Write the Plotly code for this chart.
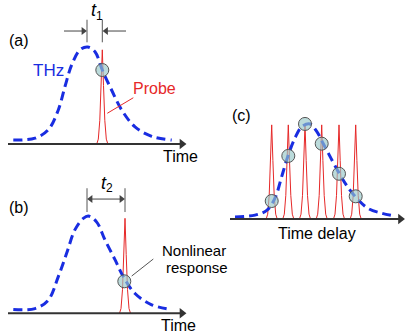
import plotly.graph_objects as go

W, H = 405, 333
FONT = "Liberation Sans, Arial, sans-serif"
BLUE = "rgb(25,45,225)"
RED = "rgb(230,40,40)"
GRAY = "#555555"
AXIS = "#333333"
CIRCLE_FILL = "rgba(150,200,200,0.65)"

# ---- data (arbitrary time units, normalised amplitude) ----
# panel (a)
THZ_A_T = [0.53, 2.7, 4.03, 5.03, 5.7, 6.37, 7.2, 7.97, 8.7, 9.43, 10.37, 11.37, 12.7, 14.37, 16.37]
THZ_A_AMP = [0.01, 0.03, 0.12, 0.33, 0.58, 0.81, 0.97, 1.0, 0.95, 0.755, 0.54, 0.33, 0.15, 0.05, 0.01]
PROBE_A_T = [9.43]
PROBE_A_PEAK = [0.97]
RESP_A_AMP = [0.755]

# panel (b)
THZ_B_T = [0.53, 2.7, 4.03, 5.03, 5.87, 6.7, 7.53, 8.03, 8.87, 9.7, 10.7, 11.53, 12.7, 14.37, 16.37]
THZ_B_AMP = [0.0, 0.01, 0.10, 0.35, 0.60, 0.85, 0.97, 0.995, 0.93, 0.74, 0.53, 0.35, 0.17, 0.05, 0.0]
PROBE_B_T = [11.7]
PROBE_B_PEAK = [0.97]
RESP_B_T = [11.63]
RESP_B_AMP = [0.30]

# panel (c)
THZ_C_T = [0.5, 2.5, 3.67, 4.5, 5.17, 5.83, 6.5, 7.17, 8.0, 8.67, 9.33, 10.17, 11.0, 11.83, 12.67, 13.83, 15.17, 16.5]
THZ_C_AMP = [0.0, 0.02, 0.07, 0.2, 0.43, 0.66, 0.84, 0.96, 0.99, 0.91, 0.78, 0.61, 0.45, 0.31, 0.2, 0.09, 0.04, 0.01]
PROBE_C_T = [4.17, 5.83, 7.5, 9.17, 10.9, 12.57]
PROBE_C_PEAK = [0.98] * 6
RESP_C_AMP = [0.17, 0.65, 0.99, 0.78, 0.46, 0.22]

# probe pulse profile (relative time offset, relative height)
PULSE_DT = [-0.55, -0.4, -0.25, -0.12, 0.0, 0.12, 0.25, 0.4, 0.55]
PULSE_SHAPE = [0.0, 0.05, 0.25, 0.62, 1.0, 0.62, 0.25, 0.05, 0.0]

# ---- panel geometry (pixel boxes and origins) ----
SX, SY = 10.0, 94.0  # px per time unit, px per amplitude unit
panels = {
    "a": dict(box=(0, 200, 0, 165), origin=(8, 141)),
    "b": dict(box=(0, 230, 170, 333), origin=(8, 309.5)),
    "c": dict(box=(215, 405, 95, 250), origin=(230, 217)),
}
axis_ids = {"a": "", "b": "2", "c": "3"}

fig = go.Figure()
layout = dict(width=W, height=H, margin=dict(l=0, r=0, t=0, b=0),
              paper_bgcolor="white", plot_bgcolor="rgba(0,0,0,0)",
              showlegend=False, autosize=False)

for key, p in panels.items():
    l, r, t, b = p["box"]
    x0, y0 = p["origin"]
    i = axis_ids[key]
    layout["xaxis" + i] = dict(domain=[l / W, r / W], range=[(l - x0) / SX, (r - x0) / SX],
                               visible=False, fixedrange=True, anchor="y" + i)
    layout["yaxis" + i] = dict(domain=[1 - b / H, 1 - t / H], range=[(y0 - b) / SY, (y0 - t) / SY],
                               visible=False, fixedrange=True, anchor="x" + i)
fig.update_layout(**layout)


def add_pulses(centers, peaks, base, xa, ya):
    for c, pk in zip(centers, peaks):
        xs = [c + d for d in PULSE_DT]
        ys = [base + (pk - base) * s for s in PULSE_SHAPE]
        fig.add_trace(go.Scatter(x=xs, y=ys, mode="lines", line=dict(color=RED, width=1),
                                 xaxis=xa, yaxis=ya, hoverinfo="skip"))


def add_thz(ts, amps, xa, ya):
    fig.add_trace(go.Scatter(x=ts, y=amps, mode="lines",
                             line=dict(color=BLUE, width=3, dash="9px,5px", shape="spline"),
                             xaxis=xa, yaxis=ya, hoverinfo="skip"))


def add_circles(ts, amps, xa, ya):
    fig.add_trace(go.Scatter(x=ts, y=amps, mode="markers",
                             marker=dict(size=13, color=CIRCLE_FILL, line=dict(color=GRAY, width=1)),
                             xaxis=xa, yaxis=ya, hoverinfo="skip"))


def add_line(xs, ys, xa, ya, color=GRAY, width=1):
    fig.add_trace(go.Scatter(x=xs, y=ys, mode="lines", line=dict(color=color, width=width),
                             xaxis=xa, yaxis=ya, hoverinfo="skip"))


def arrow(x_tail, x_head, y, xa, ya, color=AXIS, width=2, size=9, both=False):
    """Horizontal arrow drawn as a line plus triangle marker head(s)."""
    d = 1 if x_head > x_tail else -1
    off = size * 0.045  # shift so the triangle tip sits at the head
    add_line([x_tail + (d * off if both else 0), x_head - d * off], [y, y], xa, ya, color=color, width=width)
    hx = [x_head - d * off]
    sym = ["triangle-right" if d > 0 else "triangle-left"]
    if both:
        hx.append(x_tail + d * off)
        sym.append("triangle-left" if d > 0 else "triangle-right")
    fig.add_trace(go.Scatter(x=hx, y=[y] * len(hx), mode="markers",
                             marker=dict(symbol=sym, size=size, color=color, line=dict(width=0)),
                             xaxis=xa, yaxis=ya, hoverinfo="skip"))


def label(txt, x, y, xr, yr, size=16, color="black", italic=False):
    fig.add_annotation(x=x, y=y, xref=xr, yref=yr, text=txt, showarrow=False,
                       font=dict(family=FONT, size=size, color=color,
                                 style="italic" if italic else "normal"))


# ---- panel (a) ----
add_pulses(PROBE_A_T, PROBE_A_PEAK, -0.03, "x", "y")
add_thz(THZ_A_T, THZ_A_AMP, "x", "y")
add_circles(PROBE_A_T, RESP_A_AMP, "x", "y")
arrow(0, 17.8, -0.032, "x", "y")
add_line([7.9, 7.9], [1.05, 1.29], "x", "y")
add_line([9.43, 9.43], [1.05, 1.29], "x", "y")
arrow(5.6, 7.85, 1.17, "x", "y", color="#444", width=1, size=7)
arrow(11.8, 9.5, 1.17, "x", "y", color="#444", width=1, size=7)
add_line([9.93, 12.53], [0.295, 0.46], "x", "y", color=RED)
label("(a)", 1.1, 1.07, "x", "y")
label("THz", 4.0, 0.745, "x", "y", size=17, color=BLUE)
label("Probe", 14.6, 0.56, "x", "y", color=RED)
label("Time", 17.2, -0.16, "x", "y")
label("t", 8.55, 1.39, "x", "y", size=18, italic=True)
label("1", 9.12, 1.33, "x", "y", size=12)

# ---- panel (b) ----
add_pulses(PROBE_B_T, PROBE_B_PEAK, -0.04, "x2", "y2")
add_thz(THZ_B_T, THZ_B_AMP, "x2", "y2")
add_circles(RESP_B_T, RESP_B_AMP, "x2", "y2")
arrow(0, 17.8, -0.04, "x2", "y2")
add_line([7.9, 7.9], [1.037, 1.29], "x2", "y2")
add_line([11.7, 11.7], [1.037, 1.29], "x2", "y2")
arrow(7.95, 11.65, 1.175, "x2", "y2", color="#444", width=1, size=7, both=True)
add_line([12.37, 14.53], [0.356, 0.537], "x2", "y2", color=GRAY)
label("(b)", 1.1, 1.08, "x2", "y2")
label("t", 9.6, 1.35, "x2", "y2", size=18, italic=True)
label("2", 10.17, 1.29, "x2", "y2", size=12)
label("Nonlinear", 18.6, 0.633, "x2", "y2", size=15)
label("response", 18.9, 0.452, "x2", "y2", size=15)
label("Time", 17.0, -0.165, "x2", "y2")

# ---- panel (c) ----
add_pulses(PROBE_C_T, PROBE_C_PEAK, -0.02, "x3", "y3")
add_thz(THZ_C_T, THZ_C_AMP, "x3", "y3")
add_circles(PROBE_C_T, RESP_C_AMP, "x3", "y3")
arrow(0, 17.45, -0.021, "x3", "y3")
label("(c)", 1.1, 1.085, "x3", "y3")
label("Time delay", 8.7, -0.18, "x3", "y3")

fig.write_html("out.html", config={"displayModeBar": False},
               post_script="document.body.style.margin='0';")
